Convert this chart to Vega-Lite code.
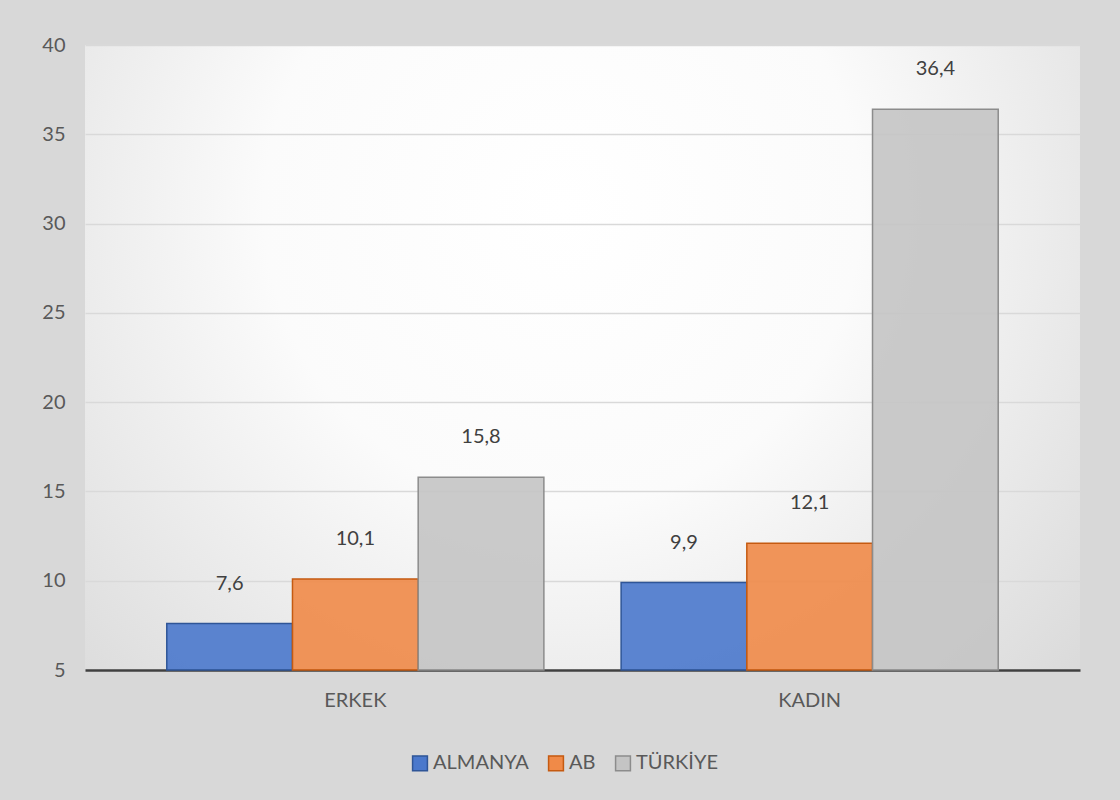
{
  "$schema": "https://vega.github.io/schema/vega-lite/v6.json",
  "width": 995,
  "height": 625,
  "autosize": {"type": "none"},
  "padding": {"left": 85, "top": 45, "right": 40, "bottom": 130},
  "background": "#d8d8d8",
  "config": {
    "font": "Lato",
    "locale": {"number": {"decimal": ",", "thousands": ".", "grouping": [3], "currency": ["", " TL"]}},
    "view": {
      "stroke": null,
      "fill": {
        "gradient": "radial",
        "x1": 0.48, "y1": 0.35, "r1": 0,
        "x2": 0.48, "y2": 0.35, "r2": 0.75,
        "stops": [
          {"offset": 0, "color": "#ffffff"},
          {"offset": 0.4, "color": "#fbfbfb"},
          {"offset": 1, "color": "#d6d6d6"}
        ]
      }
    }
  },
  "data": {
    "values": [
      {"grup": "ERKEK", "ulke": "ALMANYA", "deger": 7.6},
      {"grup": "ERKEK", "ulke": "AB", "deger": 10.1},
      {"grup": "ERKEK", "ulke": "TÜRKİYE", "deger": 15.8},
      {"grup": "KADIN", "ulke": "ALMANYA", "deger": 9.9},
      {"grup": "KADIN", "ulke": "AB", "deger": 12.1},
      {"grup": "KADIN", "ulke": "TÜRKİYE", "deger": 36.4}
    ]
  },
  "encoding": {
    "x": {
      "field": "grup",
      "type": "nominal",
      "scale": {"paddingInner": 0.17, "paddingOuter": 0.18},
      "axis": {
        "title": null,
        "labelAngle": 0,
        "labelFontSize": 20,
        "labelColor": "#595959",
        "labelPadding": 20,
        "ticks": false,
        "domainColor": "#404040",
        "domainWidth": 2.5
      }
    },
    "xOffset": {"field": "ulke", "type": "nominal", "sort": ["ALMANYA", "AB", "TÜRKİYE"]},
    "y": {
      "field": "deger",
      "type": "quantitative",
      "scale": {"domain": [5, 40], "zero": false, "nice": false},
      "axis": {
        "title": null,
        "values": [5, 10, 15, 20, 25, 30, 35, 40],
        "labelFontSize": 20,
        "labelColor": "#595959",
        "labelPadding": 20,
        "ticks": false,
        "domain": false,
        "gridColor": "#d9d9d9",
        "gridWidth": 1.5
      }
    }
  },
  "layer": [
    {
      "mark": {"type": "bar", "strokeWidth": 1.5, "fillOpacity": 0.9},
      "encoding": {
        "y2": {"datum": 5},
        "color": {
          "field": "ulke",
          "type": "nominal",
          "sort": ["ALMANYA", "AB", "TÜRKİYE"],
          "scale": {"domain": ["ALMANYA", "AB", "TÜRKİYE"], "range": ["#4a78cc", "#f08a48", "#c4c4c4"]},
          "legend": {
            "title": null,
            "orient": "none",
            "legendX": 325,
            "legendY": 708,
            "direction": "horizontal",
            "symbolType": "square",
            "symbolSize": 220,
            "symbolStrokeWidth": 1.5,
            "labelFontSize": 20,
            "labelColor": "#595959",
            "labelOffset": 3,
            "columnPadding": 16
          }
        },
        "stroke": {
          "field": "ulke",
          "type": "nominal",
          "scale": {"domain": ["ALMANYA", "AB", "TÜRKİYE"], "range": ["#2f5597", "#c55a11", "#8c8c8c"]},
          "legend": null
        }
      }
    },
    {
      "mark": {"type": "text", "dy": -40, "fontSize": 20, "color": "#404040"},
      "encoding": {
        "text": {"field": "deger", "type": "quantitative", "format": ".1f"}
      }
    }
  ]
}
